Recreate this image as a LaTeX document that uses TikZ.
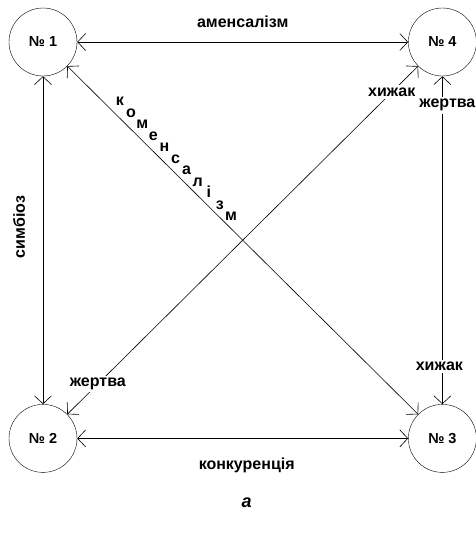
\documentclass[tikz,border=0pt]{standalone}
\usepackage{fontspec}
\setmainfont{Liberation Sans}
\usetikzlibrary{arrows.meta,positioning}

\begin{document}
\begin{tikzpicture}[>={Straight Barb[length=8pt,width=17pt]}, node distance=331pt]
    \tikzstyle{sp}=[circle,draw,minimum size=68pt,inner sep=0pt,font=\fontsize{14.5}{17}\selectfont\bfseries]
    \tikzstyle{lbl}=[inner sep=0pt,font=\fontsize{16}{19}\selectfont\bfseries]
    \tikzstyle{onln}=[lbl,fill=white,inner sep=2.5pt]
    \tikzstyle{link}=[<->,line width=0.6pt]
    \useasboundingbox (-43pt,42pt) rectangle (432pt,-491pt);

    \node[sp] (n1) {№ 1};
    \node[sp, right=of n1] (n4) {№ 4};
    \node[sp, below=328pt of n1] (n2) {№ 2};
    \node[sp, below=328pt of n4] (n3) {№ 3};

    \draw[link] (n1) -- node[lbl, yshift=20pt] (amen) {аменсалізм} (n4);
    \draw[link] (n2) -- node[lbl, anchor=base, xshift=4pt, yshift=-31pt] (konk) {конкуренція} (n3);
    \draw[link] (n1) -- node[lbl, pos=0.46, xshift=-24pt, rotate=90] (simb) {симбіоз} (n2);
    \draw[link] (n2) -- node[onln, pos=0.087] (zh2) {жертва}
        node[onln, pos=0.925] (hy4) {хижак} (n4);
    \draw[link] (n4) -- node[onln, pos=0.088, xshift=5pt] (zh4) {жертва}
        node[onln, pos=0.885, xshift=-3pt] (hy3) {хижак} (n3);
    \draw[link] (n1) -- (n3);

    % letters along the diagonal
    \foreach \ch [count=\i from 0] in {к,о,м,е,н,с,а,л,і,з,м}
        \node[lbl, anchor=base] (ko\i) at ([shift={({77pt+\i*11.1pt},{-63.5pt-\i*11.5pt})}]n1.center) {\ch};

    \node[lbl, font=\fontsize{18}{21}\selectfont\bfseries\itshape, anchor=base] (cap) at ([yshift=-38pt]konk.base) {а};
\end{tikzpicture}
\end{document}
